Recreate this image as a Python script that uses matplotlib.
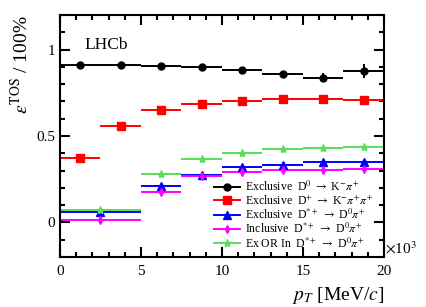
import matplotlib
matplotlib.use("Agg")
import matplotlib.pyplot as plt
from matplotlib.lines import Line2D
from matplotlib.ticker import MultipleLocator, FixedLocator, FuncFormatter
import numpy as np

plt.rcParams['font.family'] = ['Liberation Serif', 'DejaVu Serif']
plt.rcParams['mathtext.fontset'] = 'stix'

# bin edges in units of 10^3 MeV/c
edges8 = [0, 2.5, 5, 7.5, 10, 12.5, 15, 17.5, 20]
edges7 = [0, 5, 7.5, 10, 12.5, 15, 17.5, 20]

d0_eff = [0.908, 0.908, 0.906, 0.898, 0.883, 0.860, 0.837, 0.875]
d0_err = [0.008, 0.008, 0.008, 0.008, 0.010, 0.012, 0.026, 0.040]
dp_eff = [0.370, 0.557, 0.651, 0.686, 0.705, 0.713, 0.713, 0.709]
dp_err = [0.010, 0.008, 0.008, 0.008, 0.008, 0.008, 0.010, 0.012]
dst_ex_eff = [0.061, 0.209, 0.276, 0.318, 0.331, 0.347, 0.351]
dst_ex_err = [0.012, 0.012, 0.010, 0.010, 0.010, 0.010, 0.012]
dst_in_eff = [0.015, 0.176, 0.266, 0.291, 0.301, 0.305, 0.310]
dst_in_err = [0.012, 0.012, 0.010, 0.010, 0.010, 0.010, 0.012]
dst_or_eff = [0.071, 0.280, 0.368, 0.404, 0.423, 0.433, 0.437]
dst_or_err = [0.008, 0.006, 0.006, 0.006, 0.006, 0.006, 0.006]

labels = [
    r'Exclusive  D$^{0}$ $\rightarrow$ K$^{-}\pi^{+}$',
    r'Exclusive  D$^{+}$ $\rightarrow$ K$^{-}\pi^{+}\pi^{+}$',
    r'Exclusive  D$^{*+}$ $\rightarrow$ D$^{0}\pi^{+}$',
    r'Inclusive  D$^{*+}$ $\rightarrow$ D$^{0}\pi^{+}$',
    r'Ex OR In  D$^{*+}$ $\rightarrow$ D$^{0}\pi^{+}$',
]
green = '#5ade5a'
styles = [
    ('black', 'o', 5.0),
    ('#ff0000', 's', 5.5),
    ('#0000ff', '^', 5.5),
    ('#ff00ff', 'd', 4.0),
    (green, '*', 6.0),
]

fig = plt.figure(figsize=(4.27, 3.07), dpi=100)
ax = fig.add_axes([60/427, 50/307, 324/427, 242/307])

def draw(edges, vals, errs, color, marker, ms):
    e = np.array(edges)
    c = 0.5 * (e[:-1] + e[1:])
    w = 0.5 * (e[1:] - e[:-1])
    ax.errorbar(c, vals, xerr=w, yerr=errs, fmt=marker, color=color,
                ms=ms, elinewidth=1.4, capsize=0, linestyle='none')

series = [
    (edges8, d0_eff, d0_err),
    (edges8, dp_eff, dp_err),
    (edges7, dst_ex_eff, dst_ex_err),
    (edges7, dst_in_eff, dst_in_err),
    (edges7, dst_or_eff, dst_or_err),
]
for (ed, v, er), (col, mk, ms) in zip(series, styles):
    draw(ed, v, er, col, mk, ms)

ax.set_xlim(0, 20)
ax.set_ylim(-0.2, 1.2)
ax.xaxis.set_major_locator(MultipleLocator(5))
ax.xaxis.set_minor_locator(MultipleLocator(1))
ax.yaxis.set_major_locator(FixedLocator([0, 0.5, 1]))
ax.yaxis.set_minor_locator(MultipleLocator(0.1))
ax.xaxis.set_major_formatter(FuncFormatter(lambda v, p: '%d' % round(v)))
ax.yaxis.set_major_formatter(FuncFormatter(lambda v, p: '%g' % round(v, 2)))
ax.tick_params(which='both', direction='in', top=True, right=True, width=1.5,
               labelsize=11)
ax.tick_params(which='major', length=7)
ax.tick_params(which='minor', length=3.5)
ax.tick_params(axis='x', pad=6)
for s in ax.spines.values():
    s.set_linewidth(1.5)

ax.set_xlabel(r'$p_{T}$ [MeV/$c$]', fontsize=14, ha='right')
ax.xaxis.set_label_coords(1.0, -0.115)
ax.set_ylabel(r'$\varepsilon^{\rm TOS}$ / 100%', fontsize=14, ha='right')
ax.yaxis.set_label_coords(-0.085, 1.0)

ax.text(0.077, 0.875, 'LHCb', transform=ax.transAxes, fontsize=12.5,
        ha='left', va='center')
ax.text(1.003, 0.035, r'$\times$10$^{3}$', transform=ax.transAxes,
        fontsize=11, ha='left', va='center')

handles = [Line2D([0], [0], color=c, marker=m, ms=ms, lw=1.4)
           for c, m, ms in styles]
ax.legend(handles, labels, loc='lower right', bbox_to_anchor=(0.988, 0.0),
          frameon=False, fontsize=8.5, handlelength=2.2, handletextpad=0.45,
          labelspacing=0.0, borderaxespad=0.15)

fig.savefig('out.png', dpi=100)
